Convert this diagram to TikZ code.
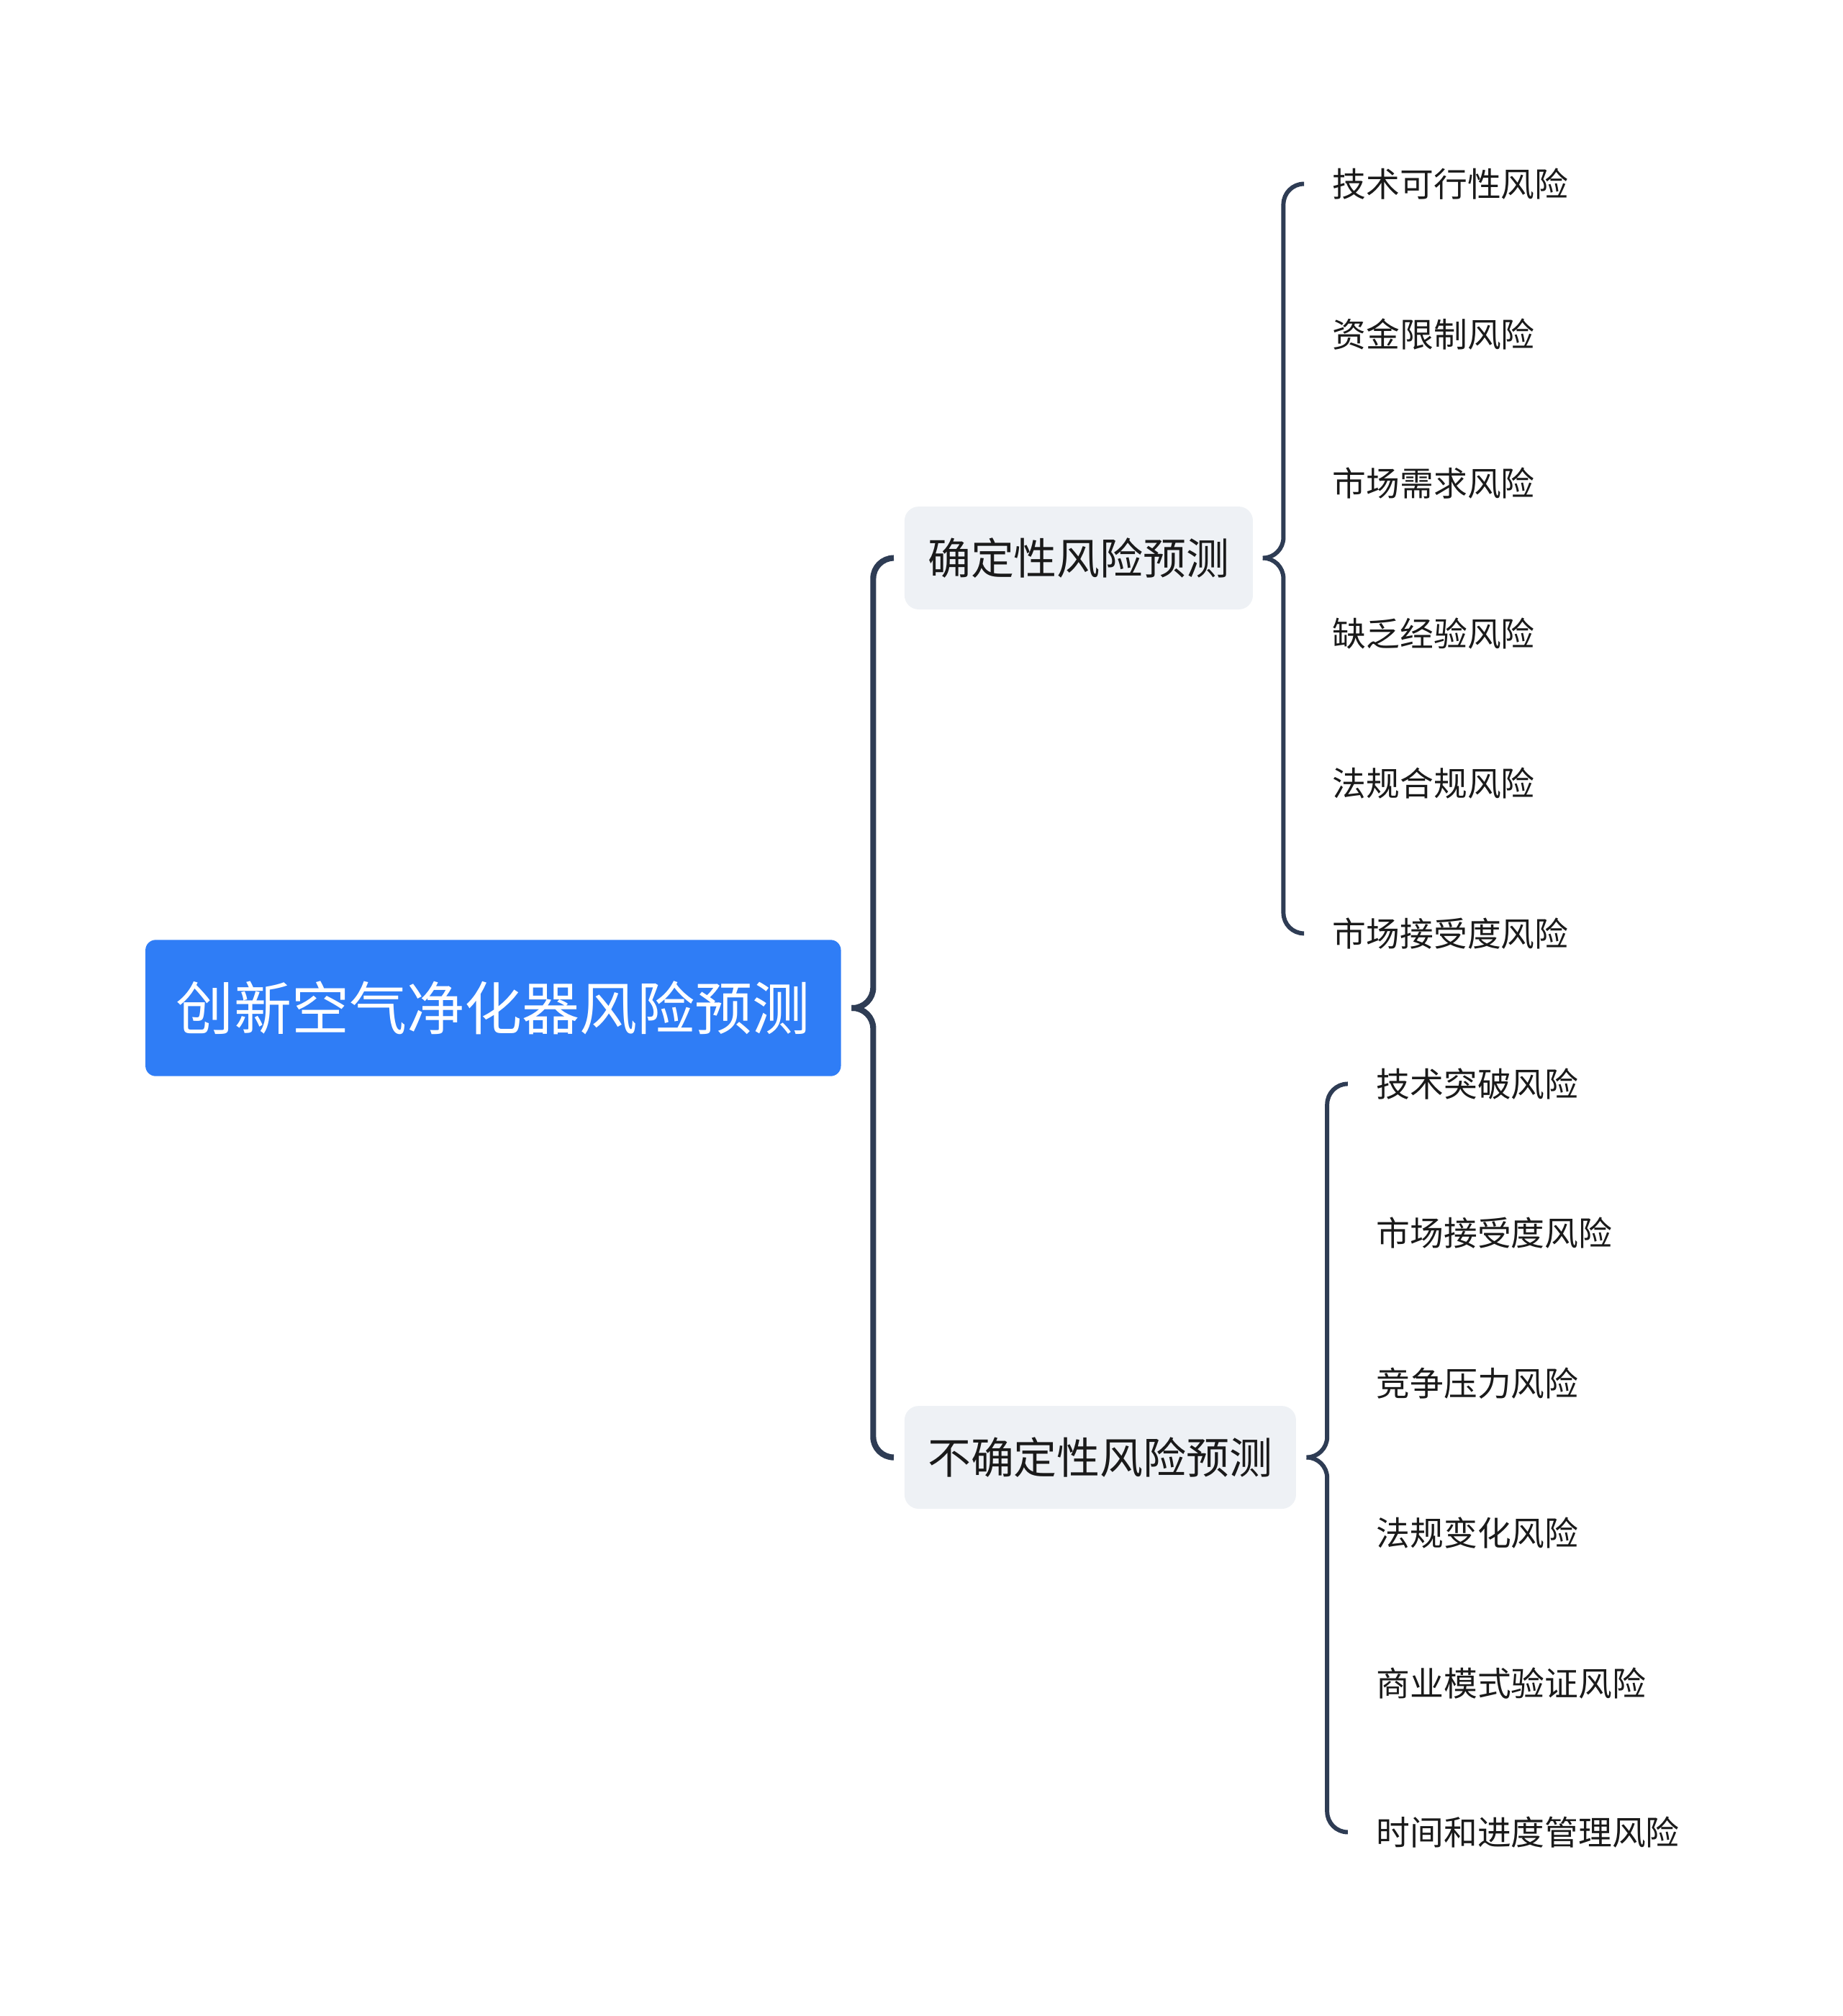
\documentclass[tikz,border=0pt]{standalone}
\usepackage{fontspec}
\setmainfont{Noto Sans CJK SC}
\usetikzlibrary{calc}
\definecolor{rootblue}{RGB}{47,125,246}
\definecolor{boxgray}{RGB}{238,241,245}
\definecolor{linenavy}{RGB}{46,60,84}
\definecolor{txt}{RGB}{26,26,26}
\tikzset{
  rootbox/.style={fill=rootblue, rounded corners=0.16cm, text=white, inner xsep=0.48cm, inner ysep=0pt, minimum height=2.12cm, font=\fontsize{25.5}{25.5}\selectfont},
  midbox/.style={fill=boxgray, rounded corners=0.22cm, text=txt, inner xsep=0.36cm, inner ysep=0pt, minimum height=1.6cm, anchor=west, font=\fontsize{19.1}{19.1}\selectfont},
  leaf/.style={text=txt, inner xsep=0.28cm, inner ysep=0pt, minimum height=0.8cm, anchor=west, font=\fontsize{14.9}{14.9}\selectfont},
  forkline/.style={draw=linenavy, line width=1.9pt, rounded corners=0.32cm},
}
\newcommand{\forkto}[3][]{\draw[forkline,#1] ($(#2.east)+(8,0)$) -| ($(#3.west)+(-24,0)$) -- ($(#3.west)+(-8,0)$);}
\begin{document}
\begin{tikzpicture}[x=0.02cm,y=0.02cm]
            \useasboundingbox (0,0) rectangle (1433,-1568);
            \node[rootbox] (root) at (383.5,-784) {创新空气净化器风险预测};

            \node[midbox] (det) at (703,-434) {确定性风险预测};
            \node[midbox] (undet) at (703,-1133.5) {不确定性风险预测};
            \forkto[line width=2.6pt]{root}{det}
            \forkto[line width=2.6pt]{root}{undet}

            \node[leaf] (d1) at (1022,-143) {技术可行性风险};
            \node[leaf] (d2) at (1022,-260) {资金限制风险};
            \node[leaf] (d3) at (1022,-376) {市场需求风险};
            \node[leaf] (d4) at (1022,-493) {缺乏经验风险};
            \node[leaf] (d5) at (1022,-609) {法规合规风险};
            \node[leaf] (d6) at (1022,-726) {市场接受度风险};
            \forkto{det}{d1}
            \forkto{det}{d6}

            \node[leaf] (u1) at (1056,-843) {技术突破风险};
            \node[leaf] (u2) at (1056,-959) {市场接受度风险};
            \node[leaf] (u3) at (1056,-1076) {竞争压力风险};
            \node[leaf] (u4) at (1056,-1192) {法规变化风险};
            \node[leaf] (u5) at (1056,-1309) {商业模式验证风险};
            \node[leaf] (u6) at (1056,-1425) {时间和进度管理风险};
            \forkto{undet}{u1}
            \forkto{undet}{u6}
        \end{tikzpicture}
\end{document}
